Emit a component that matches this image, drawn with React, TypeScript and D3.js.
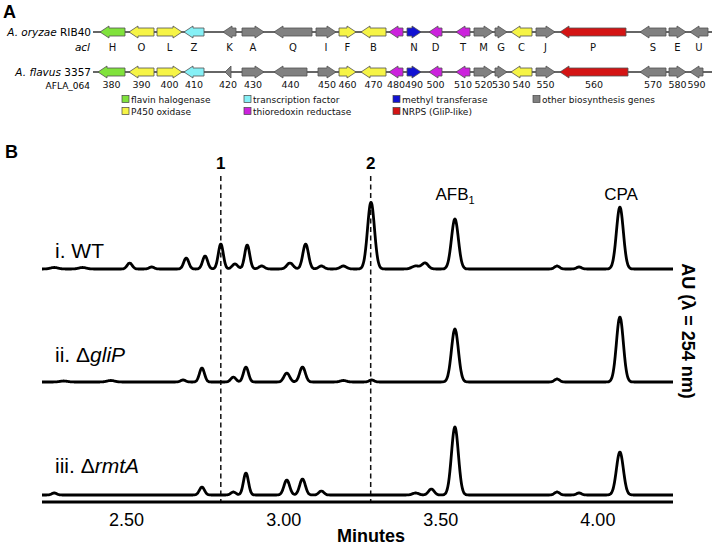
import React from "react";
import * as d3 from "d3";

// ---------- Panel A data ----------
const geneLetters = ["H","O","L","Z","K","A","Q","I","F","B","","N","D","T","M","G","C","J","P","S","E","U"];
const geneNumbers = ["380","390","400","410","420","430","440","450","460","470","480","490","500","510","520","530","540","550","560","570","580","590"];
const geneStrand = [-1,-1,1,-1,-1,1,-1,1,1,-1,-1,1,-1,-1,1,1,-1,1,-1,-1,1,-1];
const geneCategory = ["hal","p450","p450","tf","oth","oth","oth","oth","p450","p450","trx","mt","trx","trx","oth","oth","p450","oth","nrps","oth","oth","oth"];
const row1Start = [7,36,64,91,130,149,181,223,246,268,296,314,336,363,381,402,418,443,467,547,576,597];
const row1End =   [32,61,89,111,143,171,219,243,263,293,310,328,349,377,400,414,439,462,533,573,593,615];
const row2Start = [5,36,64,91,132,149,181,225,246,268,296,314,336,363,381,402,418,443,467,547,576,597];
const row2End =   [32,61,89,111,138,171,214,243,263,293,310,328,349,377,400,414,439,462,535,573,593,610];

const legendKeys = ["hal","p450","tf","trx","mt","nrps","oth"];
const legendLabels = ["flavin halogenase","P450 oxidase","transcription factor","thioredoxin reductase","methyl transferase","NRPS (GliP-like)","other biosynthesis genes"];
const categoryColors: Record<string,string> = {
  hal: "#80e23c", p450: "#f6f446", tf: "#86f0f6", trx: "#cc22dd", mt: "#1212d2", nrps: "#d41414", oth: "#808080",
};

// ---------- Panel B data ----------
const tickValues = [2.5, 3.0, 3.5, 4.0];
const tickLabels = ["2.50","3.00","3.50","4.00"];
const markerTimes = [2.80, 3.277];
const markerLabels = ["1","2"];

const traceNames = ["WT","gliP","rmtA"];
const traceOffsets = [233, 120, 7];
// peaks: retention time (min), height (AU units), width (sigma, min)
const wtTimes =   [2.27,2.36,2.51,2.58,2.69,2.75,2.80,2.845,2.884,2.93,3.02,3.07,3.12,3.19,3.278,3.42,3.45,3.545,3.87,3.94,4.07];
const wtHeights = [1.5,1.5,6,2,11,13,25,5,24,3,6,25,3,3,67,3,6,50,3,2,62];
const wtWidths =  [.012,.012,.008,.008,.008,.008,.008,.009,.008,.009,.01,.009,.009,.01,.011,.012,.01,.011,.008,.008,.011];
const gliPTimes =   [2.30,2.45,2.68,2.74,2.84,2.88,3.01,3.06,3.19,3.28,3.545,3.87,4.07];
const gliPHeights = [1,1.5,2,14,5,15,9,15,1.5,2,53,3,65];
const gliPWidths =  [.012,.012,.008,.008,.008,.008,.009,.009,.01,.008,.011,.008,.011];
const rmtATimes =   [2.27,2.74,2.84,2.88,3.01,3.06,3.12,3.42,3.47,3.545,3.87,3.94,4.07];
const rmtAHeights = [2,8,3,22,15,16,4,2,6,68,3,2,43];
const rmtAWidths =  [.008,.008,.008,.008,.009,.009,.008,.01,.009,.011,.008,.008,.011];

const W = 714, H = 547;

function Gene({ x0, x1, y, strand, color }: { x0: number; x1: number; y: number; strand: number; color: string }) {
  const len = x1 - x0;
  const head = Math.min(9, len);
  const bh = 4, hh = 6;
  let pts: [number, number][];
  if (strand > 0) {
    const hb = x1 - head;
    pts = [[x0, y - bh], [hb, y - bh], [hb, y - hh], [x1, y], [hb, y + hh], [hb, y + bh], [x0, y + bh]];
  } else {
    const hb = x0 + head;
    pts = [[x1, y - bh], [hb, y - bh], [hb, y - hh], [x0, y], [hb, y + hh], [hb, y + bh], [x1, y + bh]];
  }
  return <polygon points={pts.map(p => p.join(",")).join(" ")} fill={color} stroke="#505050" strokeWidth={0.8} strokeLinejoin="miter" />;
}

export default function App() {
  const gx = d3.scaleLinear().domain([0, 620]).range([93, 713]);
  const x = d3.scaleLinear().domain([2.231, 4.239]).range([42, 673]);
  const y = d3.scaleLinear().domain([0, 320]).range([502, 182]);

  const traces = [
    { times: wtTimes, heights: wtHeights, widths: wtWidths },
    { times: gliPTimes, heights: gliPHeights, widths: gliPWidths },
    { times: rmtATimes, heights: rmtAHeights, widths: rmtAWidths },
  ];
  const grid = d3.range(2.231, 4.2391, 0.002);
  const line = d3.line<[number, number]>().x(d => x(d[0])).y(d => y(d[1])).curve(d3.curveMonotoneX);
  const tracePaths = traces.map((tr, k) => {
    const pts: [number, number][] = grid.map(t => {
      let s = 0;
      tr.times.forEach((c, i) => {
        const dt = (t - c) / tr.widths[i];
        s += tr.heights[i] * Math.exp(-0.5 * dt * dt);
      });
      return [t, traceOffsets[k] + s];
    });
    return line(pts) || "";
  });

  const sans = "'DejaVu Sans', Verdana, sans-serif";
  const arial = "'Liberation Sans', Arial, Helvetica, sans-serif";
  const rows = [
    { y: 32, starts: row1Start, ends: row1End, labels: geneLetters, labelY: 51, fs: 10 },
    { y: 72, starts: row2Start, ends: row2End, labels: geneNumbers, labelY: 88, fs: 9.5 },
  ];
  const legendPos = [[122, 103], [122, 115], [244, 103], [244, 115], [393, 103], [393, 115], [533, 103]];

  return (
    <svg width={W} height={H} style={{ position: "absolute", left: 0, top: 0, background: "#fff" }}>
      <rect width={W} height={H} fill="#fff" />
      {/* Panel A */}
      <text x={3} y={18} fontFamily={arial} fontWeight="bold" fontSize={18}>A</text>
      <text x={91} y={36} textAnchor="end" fontFamily={sans} fontSize={10.5}>
        <tspan fontStyle="italic">A. oryzae</tspan> RIB40
      </text>
      <text x={90} y={51} textAnchor="end" fontFamily={sans} fontSize={10.5} fontStyle="italic">acl</text>
      <text x={91} y={76} textAnchor="end" fontFamily={sans} fontSize={10.5}>
        <tspan fontStyle="italic">A. flavus</tspan> 3357
      </text>
      <text x={90} y={89} textAnchor="end" fontFamily={sans} fontSize={9}>AFLA_064</text>
      {rows.map((r, ri) => (
        <g key={ri}>
          <line x1={gx(0)} x2={gx(619)} y1={r.y} y2={r.y} stroke="#333" strokeWidth={1.4} />
          {r.starts.map((s, i) => (
            <Gene key={i} x0={gx(s)} x1={gx(r.ends[i])} y={r.y} strand={geneStrand[i]} color={categoryColors[geneCategory[i]]} />
          ))}
          {r.labels.map((lab, i) => (
            <text key={"l" + i} x={gx((r.starts[i] + r.ends[i]) / 2)} y={r.labelY} textAnchor="middle" fontFamily={sans} fontSize={r.fs} fill="#111">{lab}</text>
          ))}
        </g>
      ))}
      {legendKeys.map((k, i) => (
        <g key={k}>
          <rect x={legendPos[i][0]} y={legendPos[i][1] - 7.5} width={7} height={7} fill={categoryColors[k]} stroke="#444" strokeWidth={0.7} />
          <text x={legendPos[i][0] + 9} y={legendPos[i][1]} fontFamily={sans} fontSize={9} fill="#111">{legendLabels[i]}</text>
        </g>
      ))}

      {/* Panel B */}
      <text x={5} y={158} fontFamily={arial} fontWeight="bold" fontSize={18}>B</text>
      {markerTimes.map((t, i) => (
        <g key={i}>
          <line x1={x(t)} x2={x(t)} y1={176} y2={501} stroke="#111" strokeWidth={1.5} strokeDasharray="5,3.5" />
          <text x={x(t)} y={169} textAnchor="middle" fontFamily={arial} fontWeight="bold" fontSize={17}>{markerLabels[i]}</text>
        </g>
      ))}
      {tracePaths.map((d, i) => (
        <path key={i} d={d} fill="none" stroke="#000" strokeWidth={2.8} strokeLinejoin="round" />
      ))}
      <text x={55} y={258} fontFamily={arial} fontSize={21}>i. {traceNames[0]}</text>
      <text x={55} y={362} fontFamily={arial} fontSize={21}>ii. Δ<tspan fontStyle="italic">{traceNames[1]}</tspan></text>
      <text x={55} y={473} fontFamily={arial} fontSize={21}>iii. Δ<tspan fontStyle="italic">{traceNames[2]}</tspan></text>
      <text x={455} y={200} textAnchor="middle" fontFamily={arial} fontSize={17}>AFB<tspan fontSize={11} dy={4}>1</tspan></text>
      <text x={621} y={200} textAnchor="middle" fontFamily={arial} fontSize={17}>CPA</text>
      <line x1={42} x2={673} y1={502} y2={502} stroke="#000" strokeWidth={3} />
      {tickValues.map((v, i) => (
        <text key={i} x={x(v)} y={526} textAnchor="middle" fontFamily={arial} fontSize={18}>{tickLabels[i]}</text>
      ))}
      <text x={371} y={542} textAnchor="middle" fontFamily={arial} fontWeight="bold" fontSize={18}>Minutes</text>
      <text transform="translate(682,331) rotate(90)" textAnchor="middle" fontFamily={arial} fontWeight="bold" fontSize={18}>AU (λ = 254 nm)</text>
    </svg>
  );
}
